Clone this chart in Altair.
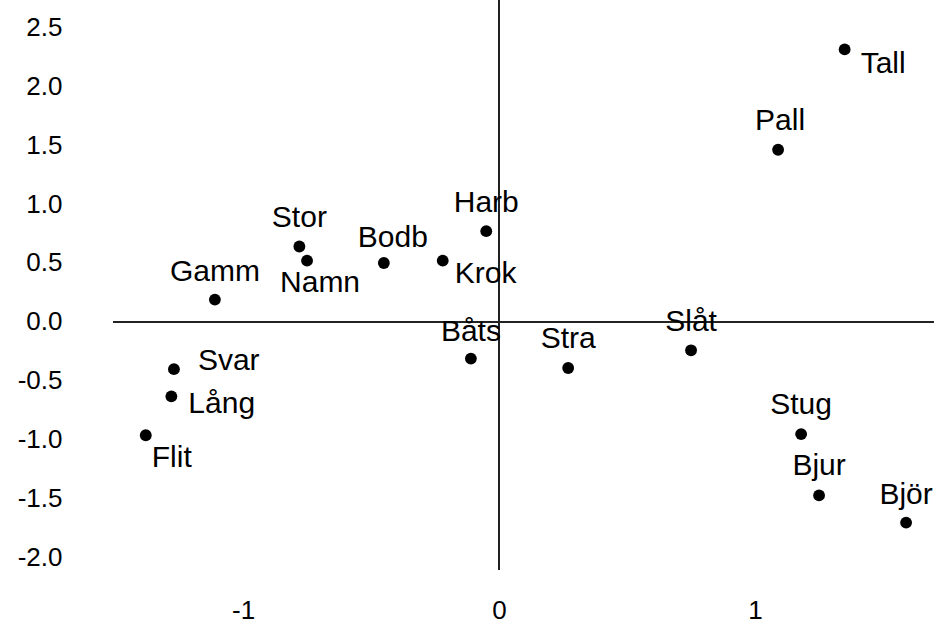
import altair as alt
import pandas as pd

# ---- data ----
names = ["Tall", "Pall", "Harb", "Stor", "Namn", "Bodb", "Krok", "Gamm", "Båts",
         "Stra", "Slåt", "Svar", "Lång", "Flit", "Stug", "Bjur", "Björ"]
dim1 = [1.35, 1.09, -0.05, -0.78, -0.75, -0.45, -0.22, -1.11, -0.11,
        0.27, 0.75, -1.27, -1.28, -1.38, 1.18, 1.25, 1.59]
dim2 = [2.31, 1.46, 0.77, 0.64, 0.52, 0.50, 0.52, 0.19, -0.31,
        -0.39, -0.24, -0.40, -0.63, -0.96, -0.95, -1.47, -1.70]
y_ticks = [-2.0, -1.5, -1.0, -0.5, 0.0, 0.5, 1.0, 1.5, 2.0, 2.5]
x_ticks = [-1, 0, 1]

df = pd.DataFrame({"name": names, "d1": dim1, "d2": dim2})

# label placement (style): dx, dy, align
placement = {
    "Tall": (16, 15, "left"),
    "Pall": (2, -29, "center"),
    "Harb": (0, -28, "center"),
    "Stor": (0, -28, "center"),
    "Namn": (13, 22, "center"),
    "Bodb": (9, -25, "center"),
    "Krok": (12, 13, "left"),
    "Gamm": (0, -28, "center"),
    "Båts": (0, -27, "center"),
    "Stra": (0, -29, "center"),
    "Slåt": (0, -28, "center"),
    "Svar": (24, -8, "left"),
    "Lång": (17, 8, "left"),
    "Flit": (6, 23, "left"),
    "Stug": (0, -29, "center"),
    "Bjur": (0, -29, "center"),
    "Björ": (0, -28, "center"),
}

FONT = "Liberation Sans"

xscale = alt.Scale(domain=[-1.508, 1.699], nice=False, zero=False)
yscale = alt.Scale(domain=[-2.102, 2.729], nice=False, zero=False)

xaxis = alt.Axis(values=x_ticks, domain=False, ticks=False, grid=False, title=None,
                 labelFontSize=26, labelFont=FONT, labelColor="black",
                 labelBaseline="middle", labelPadding=40,
                 labelExpr="datum.value < 0 ? '-' + format(-datum.value, 'd') : format(datum.value, 'd')")
yaxis = alt.Axis(values=y_ticks, domain=False, ticks=False, grid=False, title=None,
                 labelFontSize=26, labelFont=FONT, labelColor="black",
                 labelPadding=51,
                 labelExpr="datum.value < 0 ? '-' + format(-datum.value, '.1f') : format(datum.value, '.1f')")

base = alt.Chart(df)

vline = alt.Chart(df).mark_rule(color="#222", strokeWidth=1.2).encode(
    x=alt.datum(0, scale=xscale)
)
hline = alt.Chart(df).mark_rule(color="#222", strokeWidth=1.2).encode(
    y=alt.datum(0, scale=yscale)
)

points = base.mark_circle(size=140, color="black", opacity=1).encode(
    x=alt.X("d1:Q", scale=xscale, axis=xaxis),
    y=alt.Y("d2:Q", scale=yscale, axis=yaxis),
)

labels = []
for n in names:
    dx, dy, al = placement[n]
    labels.append(
        base.transform_filter(alt.datum.name == n).mark_text(
            font=FONT, fontSize=30, color="black", dx=dx, dy=dy, align=al, baseline="middle"
        ).encode(
            x=alt.X("d1:Q", scale=xscale),
            y=alt.Y("d2:Q", scale=yscale),
            text="name:N",
        )
    )

chart = alt.layer(vline, hline, points, *labels).properties(
    width=821, height=570,
    background="white",
    autosize=alt.AutoSizeParams(type="none"),
    padding={"left": 113, "top": 0, "right": 0, "bottom": 54},
).configure_view(stroke=None, strokeWidth=0)

chart.save("out.html", embed_options={"renderer": "svg", "actions": False})
